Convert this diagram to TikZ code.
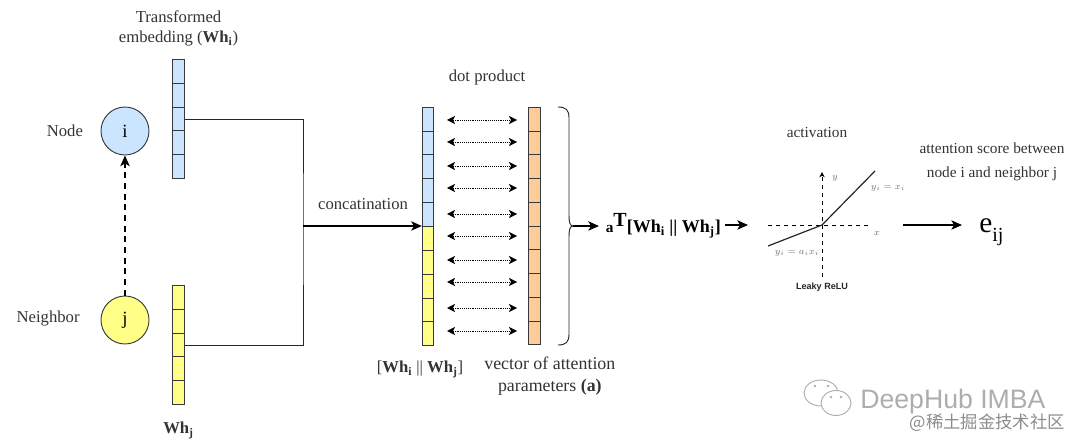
\documentclass[tikz,border=0pt]{standalone}
\usepackage{fontspec}
\setmainfont{Liberation Serif}
\newfontfamily\sansfont{Liberation Sans}
\newfontfamily\cjkfont{Noto Sans CJK SC}
\usetikzlibrary{positioning,shapes.multipart,arrows.meta,calc}
\definecolor{cellblue}{HTML}{CCE5FF}
\definecolor{cellyellow}{HTML}{FFFF88}
\definecolor{cellorange}{HTML}{FFCC99}
\definecolor{inkdark}{HTML}{36393D}
\tikzset{
  vec/.style={rectangle split,rectangle split parts=5,draw=inkdark,inner sep=0pt,line width=.6pt,
              rectangle split empty part width=4pt,rectangle split empty part height=17.2pt,
              rectangle split empty part depth=0pt},
  bluevec/.style={vec,fill=cellblue},
  yellowvec/.style={vec,fill=cellyellow},
  orangevec/.style={vec,rectangle split parts=10,fill=cellorange},
  dotnode/.style={circle,draw=inkdark,line width=.7pt,minimum size=36pt,inner sep=0pt,font=\fontsize{14}{15}\selectfont},
  lbl/.style={inner sep=0pt,align=center,text=black!80,font=\fontsize{12.5}{15}\selectfont},
  smalllbl/.style={lbl,font=\fontsize{11.5}{15}\selectfont},
  widelbl/.style={lbl,font=\fontsize{13.4}{16.5}\selectfont},
  plotlbl/.style={inner sep=0pt,text=black!55,font=\scriptsize},
  wire/.style={line width=.7pt,draw=black!85},
  flow/.style={-{Stealth[length=8pt,width=7pt,inset=2pt]},line width=.9pt,draw=black},
  dashflow/.style={flow,line width=1.2pt,dash pattern=on 4.5pt off 3.5pt},
  dotlink/.style={{Stealth[length=6pt,width=6pt,inset=1.5pt]}-{Stealth[length=6pt,width=6pt,inset=1.5pt]},
                  densely dotted,line width=.4pt,draw=black},
  wmark/.style={inner sep=0pt,text=black!32},
  wmline/.style={draw=black!32,line width=.7pt,fill=white}
}
\newcommand{\bWh}[1]{\textbf{Wh}\textsubscript{\textbf{#1}}}

\begin{document}
\begin{tikzpicture}[x=.75pt,y=-.75pt]
    \useasboundingbox (0,0) rectangle (1080,448);
    \node[dotnode,fill=cellblue] (ni) at (125,131) {i};
    \node[dotnode,fill=cellyellow] (nj) at (125,320) {j};
    \node[lbl,left=13pt of ni] (nilbl) {Node};
    \node[lbl,left=15.5pt of nj,yshift=1pt] (njlbl) {Neighbor};
    \node[bluevec] (wi) at (178.5,119) {};
    \node[yellowvec] (wj) at (178.5,345) {};
    \node[lbl,above=9.5pt of wi] (wilbl) {Transformed\\embedding (\bWh{i})};
    \node[lbl,below=13pt of wj] (wjlbl) {\bWh{j}};
    \node[bluevec,anchor=north] (ci) at (428,107) {};
    \node[yellowvec,below=0pt of ci] (cj) {};
    \node[orangevec,anchor=north] (pa) at (534.5,107) {};
    \node[lbl,below=11pt of cj,xshift=-6pt] (cjlbl) {[\bWh{i} || \bWh{j}]};
    \node[widelbl,below=9pt of pa,xshift=11.5pt] (palbl) {vector of attention\\parameters \textbf{(a)}};
    \node[lbl] (dotlbl) at (487,77) {dot product};
    \coordinate (join) at (303,226);
    \node[lbl,above=12pt of join,xshift=45pt] (conlbl) {concatination};
    \draw[dashflow] (nj) -- (ni);
    \draw[wire] (wi.east) -| (join) |- (wj.east);
    \draw[flow] (join) -- (join -| ci.west);
    \foreach \rowy in {120,142,166,188,214,236,260,282,308,331} {
      \coordinate (dl) at (447,\rowy);
      \coordinate (dr) at (517,\rowy);
      \path (dl) edge[dotlink] (dr);
    }
    \coordinate (bt) at (558,107);
    \coordinate (bb) at (558,345);
    \coordinate (btip) at (573,226);
    \coordinate (sin) at (599,226);
    \draw[wire] (bt) .. controls (566,107) and (569,110) .. (569,118) -- (569,216)
      .. controls (569,222) and (570,226) .. (btip) .. controls (570,226) and (569,230) .. (569,236)
      -- (569,334) .. controls (569,342) and (566,345) .. (bb);
    \draw[flow] (btip) -- (sin);
    \node[inner sep=0pt,anchor=base west,font=\bfseries\fontsize{13.5}{15}\selectfont] (score) at (605.5,233)
      {{\fontsize{11.5}{13}\selectfont a}\raisebox{5pt}{\fontsize{15}{15}\selectfont T}[Wh\textsubscript{i} || Wh\textsubscript{j}]};
    \coordinate (yb) at (822,277);
    \coordinate (yt) at (822,172);
    \coordinate (xl) at (768,225);
    \coordinate (xr) at (870,225);
    \coordinate (zero) at (822,225);
    \coordinate (lo) at (768,246);
    \coordinate (hi) at (875,171);
    \draw[-{Stealth[length=4pt,width=4pt]},dashed,line width=.7pt] (yb) -- (yt);
    \draw[dashed,line width=.7pt] (xl) -- (xr);
    \draw[line width=.9pt,draw=black!85] (lo) -- (zero) -- (hi);
    \node[plotlbl] (ylbl) at (835,178) {$y$};
    \node[plotlbl] (xlbl) at (877,233) {$x$};
    \node[plotlbl] (hilbl) at (888,188) {$y_i=x_i$};
    \node[plotlbl] (lolbl) at (797,253) {$y_i=a_ix_i$};
    \node[inner sep=0pt,font=\sansfont\bfseries\fontsize{6.8}{8}\selectfont,text=black!85] (relu) at (822,287) {Leaky ReLU};
    \node[smalllbl] (actlbl) at (817,133) {activation};
    \node[inner sep=0pt,anchor=base west,font=\fontsize{22}{26}\selectfont] (eij) at (979,233) {e\raisebox{-.28em}{\fontsize{15}{15}\selectfont ij}};
    \node[smalllbl] (eijlbl) at (992,162) {attention score between\\[3pt]node i and neighbor j};
    \coordinate (sa) at (725,225);
    \coordinate (sb) at (748,225);
    \coordinate (ea) at (903,225);
    \coordinate (eb) at (962,225);
    \draw[flow] (sa) -- (sb);
    \draw[flow] (ea) -- (eb);
    \node[wmark,anchor=base west,font=\sansfont\fontsize{20}{22}\selectfont] (wmtitle) at (860,408) {DeepHub IMBA};
    \node[wmark,anchor=base east,text=black!45,font=\cjkfont\fontsize{13}{15}\selectfont] (wmsub) at (1065,428) {@稀土掘金技术社区};
    \draw[wmline] (821,393) ellipse [x radius=17,y radius=13];
    \draw[wmline] (836,403) ellipse [x radius=15,y radius=12.5];
    \fill[black!32] (815,386) circle [radius=1.3] (828,386) circle [radius=1.3] (831,397) circle [radius=1.3] (841,397) circle [radius=1.3];
\end{tikzpicture}
\end{document}
